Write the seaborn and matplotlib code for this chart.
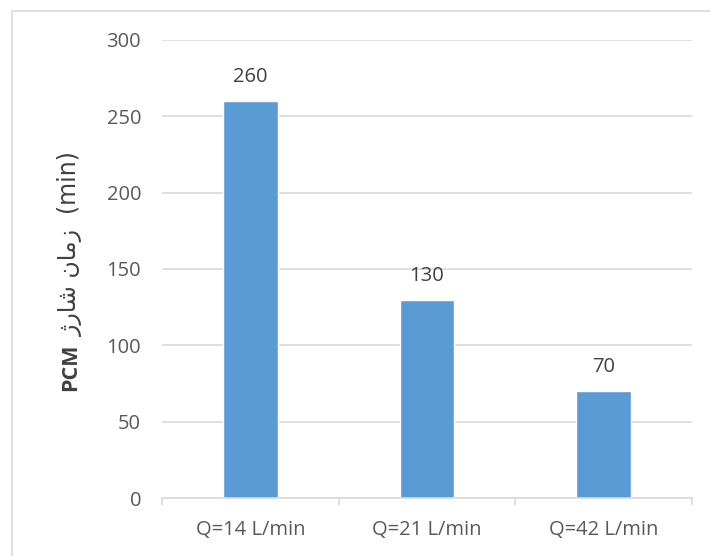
import matplotlib
matplotlib.use("Agg")
import matplotlib.pyplot as plt
import seaborn as sns
import pandas as pd
from matplotlib.patches import Rectangle

# Charging time for each flow rate
categories = ["Q=14 L/min", "Q=21 L/min", "Q=42 L/min"]
charge_minutes = [260, 130, 70]
y_ticks = [0, 50, 100, 150, 200, 250, 300]

# Persian words in shaped presentation forms, laid out in visual order
persian_label = ("\uFB8A\uFEAD\uFE8E\uFEB7" + " " + "\uFEE5\uFE8E\uFEE3\uFEAF")

df = pd.DataFrame({"flow": categories, "minutes": charge_minutes})

sns.set_theme(style="white")
plt.rcParams["font.family"] = ["Open Sans", "DejaVu Sans"]

W, H = 710, 556
fig = plt.figure(figsize=(W / 100, H / 100), dpi=100)
ax = fig.add_axes([162 / W, 1 - 498 / H, 530 / W, 458 / H])

sns.barplot(data=df, x="flow", y="minutes", color="#5B9BD5", width=0.31,
            saturation=1, ax=ax, zorder=3)

ax.set_ylim(0, 300)
ax.set_xlim(-0.5, 2.5)
ax.set_yticks(y_ticks)
ax.yaxis.grid(True, color="#D9D9D9", linewidth=1.2, zorder=0)
ax.xaxis.grid(False)
for side in ("top", "right", "left"):
    ax.spines[side].set_visible(False)
ax.spines["bottom"].set_color("#D9D9D9")
ax.spines["bottom"].set_linewidth(1.2)
ax.spines["bottom"].set_zorder(4)

tick_size = 14.5
ax.tick_params(axis="y", length=0, pad=15, labelsize=tick_size, labelcolor="#595959")
ax.tick_params(axis="x", which="major", length=0, pad=16, labelsize=tick_size,
               labelcolor="#595959")
ax.set_xticks([-0.5, 0.5, 1.5, 2.5], minor=True)
ax.tick_params(axis="x", which="minor", length=5, width=1.2, color="#D9D9D9",
               direction="out", bottom=True)

for i, v in enumerate(charge_minutes):
    ax.annotate(str(v), xy=(i, v), xytext=(0, 10), textcoords="offset points",
                ha="center", va="bottom", fontsize=tick_size, color="#404040")

ax.set_xlabel("")
ax.set_ylabel("")

# Axis title: bold "PCM" followed by the Persian words and the unit
lbl = fig.text(71 / W, 0.5, persian_label + "  (min)", rotation=90,
               ha="center", va="bottom", fontsize=17, color="#404040",
               family=["DejaVu Sans"])
pcm = ax.annotate("PCM", xy=(0.5, 0), xycoords=lbl, xytext=(0, -5),
                  textcoords="offset points", rotation=90, ha="center", va="top",
                  fontsize=15.5, fontweight="bold", color="#404040",
                  annotation_clip=False)

# Centre the whole title between its top (143 px) and bottom (400 px) rows
fig.canvas.draw()
r = fig.canvas.get_renderer()
top = lbl.get_window_extent(r).y1
bottom = pcm.get_window_extent(r).y0
target_mid = H - (143 + 400) / 2
shift = target_mid - (top + bottom) / 2
lbl.set_y(0.5 + shift / H)

# Light chart-area frame
fig.patches.append(Rectangle((12 / W, -0.1), 2, 1 - 11 / H + 0.1,
                             transform=fig.transFigure, fill=False,
                             edgecolor="#D9D9D9", linewidth=1.2))

fig.savefig("out.png", dpi=100, facecolor="white")
